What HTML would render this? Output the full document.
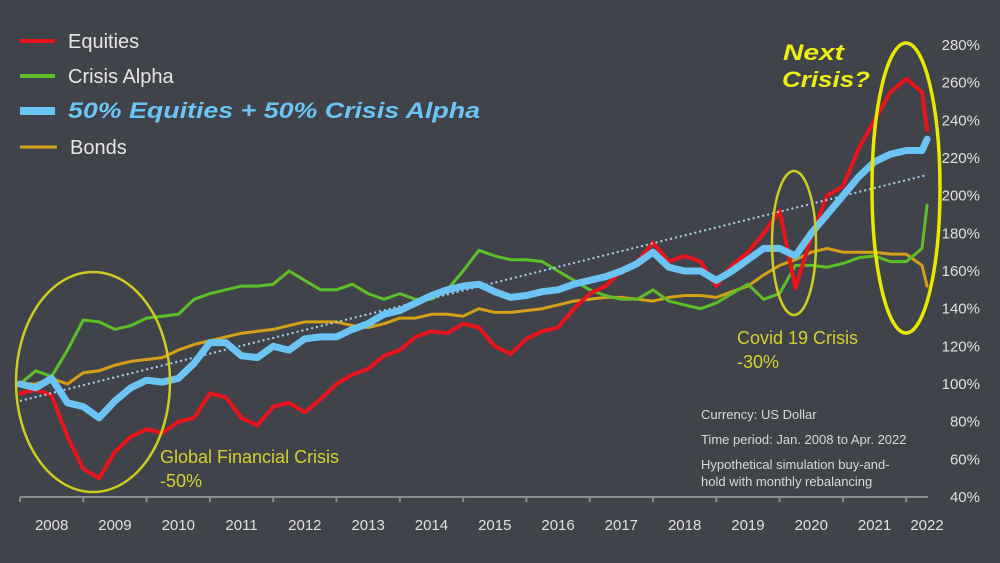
<!DOCTYPE html>
<html><head><meta charset="utf-8"><style>
html,body{margin:0;padding:0;background:#404349;}
svg{display:block;font-family:"Liberation Sans",Arial,sans-serif;}
</style></head><body>
<svg id="chart" width="1000" height="563" viewBox="0 0 1000 563">
<rect x="0" y="0" width="1000" height="563" fill="#404349"/>
<g id="axes"></g>
<g id="series"></g>
<g>
 <line x1="20" y1="41" x2="55" y2="41" stroke="#e8141c" stroke-width="4"/>
 <text x="68" y="48" font-size="20" fill="#e6e6e6">Equities</text>
 <line x1="20" y1="76" x2="55" y2="76" stroke="#5cbf2a" stroke-width="4"/>
 <text x="68" y="83" font-size="20" fill="#e6e6e6">Crisis Alpha</text>
 <line x1="20" y1="111" x2="55" y2="111" stroke="#6cc4f5" stroke-width="8"/>
 <text x="68" y="118" font-size="22" font-weight="bold" font-style="italic" textLength="412" lengthAdjust="spacingAndGlyphs" fill="#6cc4f5">50% Equities + 50% Crisis Alpha</text>
 <line x1="20" y1="147" x2="57" y2="147" stroke="#d4a017" stroke-width="3"/>
 <text x="70" y="154" font-size="20" fill="#e6e6e6">Bonds</text>
</g>
<g>
 <ellipse cx="93" cy="382" rx="77" ry="110" fill="none" stroke="#cccc22" stroke-width="2.5"/>
 <ellipse cx="794" cy="243" rx="22" ry="72" fill="none" stroke="#cccc22" stroke-width="2.5"/>
 <ellipse cx="906" cy="188" rx="34" ry="145" fill="none" stroke="#e8e800" stroke-width="3.5"/>
 <text x="160" y="463" font-size="18" fill="#d4d030">Global Financial Crisis</text>
 <text x="160" y="487" font-size="18" fill="#d4d030">-50%</text>
 <text x="737" y="344" font-size="18" fill="#d4d030">Covid 19 Crisis</text>
 <text x="737" y="368" font-size="18" fill="#d4d030">-30%</text>
 <text x="783" y="60" font-size="22" font-weight="bold" font-style="italic" textLength="61" lengthAdjust="spacingAndGlyphs" fill="#eeee10">Next</text>
 <text x="782" y="87" font-size="22" font-weight="bold" font-style="italic" textLength="88" lengthAdjust="spacingAndGlyphs" fill="#eeee10">Crisis?</text>
 <text x="701" y="419" font-size="13" fill="#d8d8d8">Currency: US Dollar</text>
 <text x="701" y="444" font-size="13" fill="#d8d8d8">Time period: Jan. 2008 to Apr. 2022</text>
 <text x="701" y="469" font-size="13" fill="#d8d8d8">Hypothetical simulation buy-and-</text>
 <text x="701" y="486" font-size="13" fill="#d8d8d8">hold with monthly rebalancing</text>
</g>
</svg>
<script>
const dates = [];
for (let i = 0; i < 58; i++) dates.push(2008 + i / 4);
dates.push(2022.33);
const equities = [95,97,94,72,55,50,64,72,76,74,80,82,95,93,82,78,88,90,85,92,100,105,108,115,118,125,128,127,132,130,120,116,124,128,130,140,148,152,160,165,175,165,168,165,152,163,170,180,192,151,178,200,205,225,240,255,262,255,235];
const crisisAlpha = [100,107,104,118,134,133,129,131,135,136,137,145,148,150,152,152,153,160,155,150,150,153,148,145,148,145,145,150,160,171,168,166,166,165,160,155,150,147,145,145,150,144,142,140,143,148,153,145,148,163,163,162,164,167,168,165,165,172,195];
const mix = [100,98,103,90,88,82,91,98,102,101,103,111,122,122,115,114,120,118,124,125,125,129,132,137,139,143,147,150,152,153,149,146,147,149,150,153,155,157,160,164,170,162,160,160,155,160,166,172,172,168,180,190,200,210,218,222,224,224,230];
const bonds = [100,100,103,100,106,107,110,112,113,114,118,121,123,125,127,128,129,131,133,133,133,131,130,132,135,135,137,137,136,140,138,138,139,140,142,144,145,146,146,145,144,146,147,147,146,149,152,158,163,166,170,172,170,170,170,169,169,163,152];
const trendStart = 91, trendEnd = 211;
const yTicks = [40,60,80,100,120,140,160,180,200,220,240,260,280];
const years = [2008,2009,2010,2011,2012,2013,2014,2015,2016,2017,2018,2019,2020,2021,2022];

const NS = "http://www.w3.org/2000/svg";
function xs(t){ return 20 + (t - 2008) * 63.3; }
function ys(v){ return 497 - (v - 40) * 1.8833; }
const axes = document.getElementById('axes');
const sg = document.getElementById('series');

yTicks.forEach(v => {
  const t = document.createElementNS(NS,'text');
  t.setAttribute('x', 980); t.setAttribute('y', ys(v) + 5);
  t.setAttribute('text-anchor','end'); t.setAttribute('font-size','15'); t.setAttribute('fill','#e0e0e0');
  t.textContent = v + '%';
  
  
  axes.appendChild(t);
});
const ax = document.createElementNS(NS,'line');
ax.setAttribute('x1',20); ax.setAttribute('x2',928); ax.setAttribute('y1',497); ax.setAttribute('y2',497);
ax.setAttribute('stroke','#8a8c90'); ax.setAttribute('stroke-width','2');


axes.appendChild(ax);
years.forEach(y => {
  const tk = document.createElementNS(NS,'line');
  tk.setAttribute('x1', xs(y)); tk.setAttribute('x2', xs(y)); tk.setAttribute('y1',497); tk.setAttribute('y2',502);
  tk.setAttribute('stroke','#8a8c90'); tk.setAttribute('stroke-width','2');
  
  
  axes.appendChild(tk);
  const t = document.createElementNS(NS,'text');
  const cx = y === 2022 ? 927 : xs(y + 0.5);
  t.setAttribute('x', cx); t.setAttribute('y', 530);
  t.setAttribute('text-anchor','middle'); t.setAttribute('font-size','15'); t.setAttribute('fill','#e0e0e0');
  t.textContent = y;
  
  
  axes.appendChild(t);
});

function line(vals, color, w, name){
  const p = document.createElementNS(NS,'polyline');
  p.setAttribute('points', vals.map((v,i)=> xs(dates[i]).toFixed(1)+','+ys(v).toFixed(1)).join(' '));
  p.setAttribute('fill','none'); p.setAttribute('stroke',color); p.setAttribute('stroke-width',w);
  p.setAttribute('stroke-linejoin','round'); p.setAttribute('stroke-linecap','round');
  
  
  sg.appendChild(p);
}
line(bonds, '#d4a017', 3, 'bonds-line');
line(crisisAlpha, '#5cbf2a', 3, 'crisis-alpha-line');
line(equities, '#e8141c', 4, 'equities-line');
const tr = document.createElementNS(NS,'line');
tr.setAttribute('x1', xs(dates[0])); tr.setAttribute('y1', ys(trendStart));
tr.setAttribute('x2', xs(dates[dates.length-1])); tr.setAttribute('y2', ys(trendEnd));
tr.setAttribute('stroke','#a8d4f0'); tr.setAttribute('stroke-width','2'); tr.setAttribute('stroke-dasharray','2 3');


sg.appendChild(tr);
line(mix, '#6cc4f5', 7, 'mix-line');
</script>
</body></html>
